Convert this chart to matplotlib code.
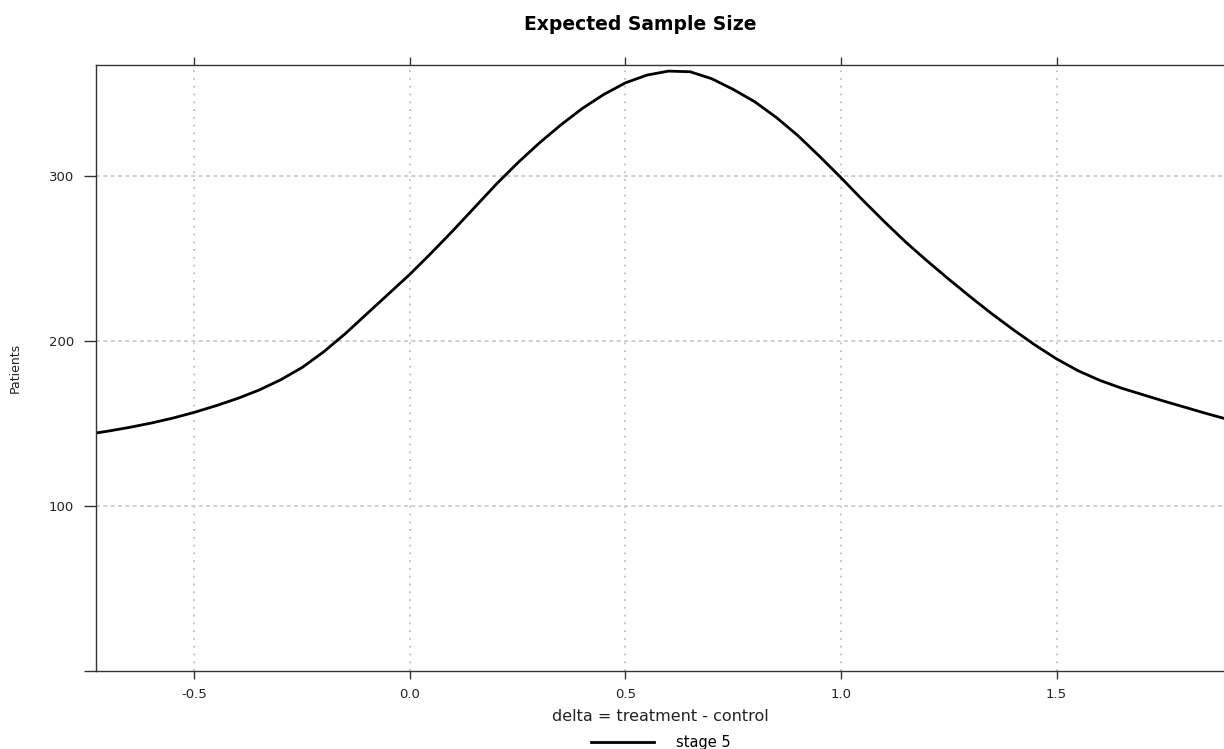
import matplotlib
matplotlib.use("Agg")
import matplotlib.pyplot as plt

# expected sample size curve
delta = [-0.75, -0.70, -0.65, -0.60, -0.55, -0.50, -0.45, -0.40, -0.35, -0.30,
         -0.25, -0.20, -0.15, -0.10, -0.05, 0.00, 0.05, 0.10, 0.15, 0.20,
         0.25, 0.30, 0.35, 0.40, 0.45, 0.50, 0.55, 0.60, 0.65, 0.70,
         0.75, 0.80, 0.85, 0.90, 0.95, 1.00, 1.05, 1.10, 1.15, 1.20,
         1.25, 1.30, 1.35, 1.40, 1.45, 1.50, 1.55, 1.60, 1.65, 1.70,
         1.75, 1.80, 1.85, 1.90]
patients = [143.4, 145.4, 147.7, 150.3, 153.3, 156.8, 160.8, 165.2, 170.3, 176.5,
            184.0, 193.5, 204.5, 216.5, 228.5, 240.5, 253.5, 267.0, 281.0, 295.0,
            308.0, 320.0, 331.0, 341.0, 349.5, 356.5, 361.2, 363.6, 363.2, 359.0,
            352.5, 345.0, 335.5, 324.5, 312.0, 299.0, 285.5, 272.5, 260.0, 248.5,
            237.5, 226.8, 216.5, 206.8, 197.6, 189.2, 182.0, 176.2, 171.5, 167.5,
            163.5, 159.7, 155.9, 152.3]

x_ticks = [-0.5, 0.0, 0.5, 1.0, 1.5]
x_labels = ["-0.5", "0.0", "0.5", "1.0", "1.5"]
y_ticks = [0, 100, 200, 300]
y_labels = ["", "100", "200", "300"]

plt.rcParams["font.family"] = ["DejaVu Sans"]
plt.rcParams["axes.unicode_minus"] = False

fig = plt.figure(figsize=(12.24, 7.49), dpi=100)
ax = fig.add_axes([96 / 1224, 1 - 671 / 749, 1 - 96 / 1224, (671 - 65) / 749])

line, = ax.plot(delta, patients, color="black", lw=2.0, label="stage 5",
                solid_joinstyle="round")

ax.set_xlim(-0.7285, 1.8886)
ax.set_ylim(0, 367.3)

# grid: dotted verticals, dashed horizontals
for xv in x_ticks:
    ax.axvline(xv, color="#c8c8c8", lw=1.4, ls=(0, (1, 3)), zorder=0)
for yv in y_ticks[1:]:
    ax.axhline(yv, color="#c8c8c8", lw=1.2, ls=(0, (2.4, 2.0)), zorder=0)

ax.set_xticks(x_ticks)
ax.set_xticklabels(x_labels)
ax.set_yticks(y_ticks)
ax.set_yticklabels(y_labels)
ax.tick_params(axis="x", which="both", direction="out", length=6, width=1,
               color="#333333", labelsize=9.5, labelcolor="#222222",
               top=True, labeltop=False, pad=6)
ax.tick_params(axis="y", direction="out", length=9, width=1,
               color="#333333", labelsize=9.5, labelcolor="#222222",
               right=False, pad=7)

for side in ["left", "top", "bottom"]:
    ax.spines[side].set_color("#333333")
    ax.spines[side].set_linewidth(1.0)
ax.spines["right"].set_visible(False)

ax.set_xlabel("delta = treatment - control", fontsize=11.5, color="#222222",
              labelpad=6)
ax.set_ylabel("Patients", fontsize=9, color="#222222")
ax.yaxis.set_label_coords(-0.066, 0.5)

fig.text(640 / 1224, 1 - 24 / 749, "Expected Sample Size", ha="center",
         va="center", fontsize=13.5, fontweight="bold")

fig.legend(handles=[line], loc="center", bbox_to_anchor=(0.54, 1 - 743 / 749),
           frameon=False, fontsize=10.5, handlelength=4.3, handletextpad=1.5,
           borderpad=0)

fig.savefig("out.png", dpi=100)
